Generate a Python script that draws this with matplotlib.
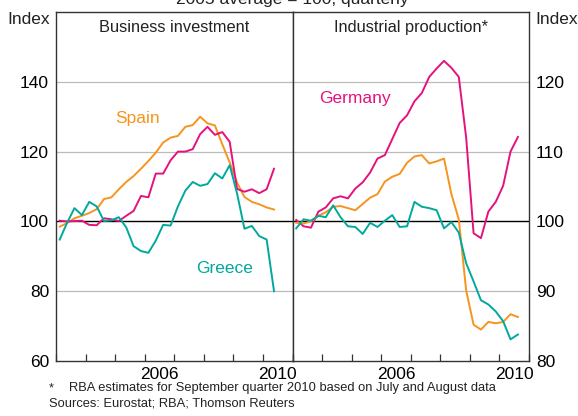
import numpy as np
import matplotlib.pyplot as plt

# quarterly data from 2003Q1, 2005 average = 100
# business investment runs to 2010Q2, industrial production to 2010Q3
bi_spain = [98.5, 99.5, 100.9, 101.6, 102.4, 103.5, 106.4, 106.9, 109.2, 111.3,
            113.0, 115.1, 117.3, 119.7, 122.6, 124.0, 124.5, 127.1, 127.6, 130.0,
            128.1, 127.5, 122.1, 116.9, 111.1, 107.0, 105.6, 104.9, 104.0, 103.4]
bi_germany = [100.2, 100.0, 100.1, 100.2, 99.0, 98.9, 100.9, 100.6, 100.1, 101.6,
              103.0, 107.3, 106.9, 113.7, 113.7, 117.5, 120.0, 120.0, 120.7, 125.0,
              127.1, 124.8, 125.6, 122.8, 109.3, 108.5, 109.2, 108.1, 109.2, 115.1]
bi_greece = [94.8, 99.6, 103.8, 101.8, 105.6, 104.3, 100.1, 100.3, 101.2, 98.3,
             92.9, 91.5, 91.0, 94.5, 99.0, 98.8, 104.3, 108.8, 111.3, 110.2,
             110.7, 113.8, 112.3, 116.1, 108.0, 97.9, 98.7, 95.8, 94.8, 80.0]

ip_germany = [100.2, 99.3, 99.1, 101.4, 102.0, 103.3, 103.6, 103.3, 104.7, 105.6,
              107.0, 109.0, 109.5, 111.8, 114.1, 115.2, 117.2, 118.4, 120.7, 121.9,
              123.0, 122.0, 120.7, 112.0, 98.3, 97.6, 101.4, 102.8, 105.1, 110.0, 112.1]
ip_spain = [99.8, 99.7, 100.0, 100.8, 101.3, 102.1, 102.2, 101.9, 101.6, 102.5,
            103.4, 103.9, 105.7, 106.4, 106.8, 108.4, 109.3, 109.5, 108.3, 108.6,
            109.0, 103.9, 100.3, 90.1, 85.2, 84.5, 85.6, 85.4, 85.6, 86.7, 86.3]
ip_greece = [99.0, 100.3, 100.1, 100.8, 100.6, 102.3, 100.6, 99.3, 99.2, 98.2,
             99.8, 99.2, 100.1, 100.9, 99.2, 99.3, 102.8, 102.1, 101.9, 101.6,
             99.0, 99.9, 98.4, 94.0, 91.4, 88.7, 88.1, 87.1, 85.7, 83.1, 83.8]

x_bi = 2003.125 + 0.25 * np.arange(len(bi_spain))
x_ip = 2003.125 + 0.25 * np.arange(len(ip_spain))

ORANGE = '#F7941D'
MAGENTA = '#E5127D'
TEAL = '#00A99D'
GRID = '#BBBBBB'
FRAME = '#333333'

plt.rcParams['font.family'] = ['Liberation Sans', 'DejaVu Sans']
plt.rcParams['text.color'] = '#222222'

W, H = 578, 416
fig = plt.figure(figsize=(W / 100, H / 100), dpi=100)
ax1 = fig.add_axes([56 / W, 55 / H, 236.5 / W, 349 / H])
ax2 = fig.add_axes([292.5 / W, 55 / H, 236.5 / W, 349 / H])

lw = 1.4

#left panel
for v in [80, 120, 140]:
    ax1.axhline(v, color=GRID, lw=0.9, zorder=1)
ax1.axhline(100, color='black', lw=1.0, zorder=1)
ax1.plot(x_bi, bi_spain, color=ORANGE, lw=lw, zorder=3)
ax1.plot(x_bi, bi_germany, color=MAGENTA, lw=lw, zorder=3)
ax1.plot(x_bi, bi_greece, color=TEAL, lw=lw, zorder=4)
ax1.set_ylim(60, 160)
ax1.set_yticks([60, 80, 100, 120, 140])

#right panel
for v in [90, 110, 120]:
    ax2.axhline(v, color=GRID, lw=0.9, zorder=1)
ax2.axhline(100, color='black', lw=1.0, zorder=1)
ax2.plot(x_ip, ip_germany, color=MAGENTA, lw=lw, zorder=3)
ax2.plot(x_ip, ip_spain, color=ORANGE, lw=lw, zorder=3)
ax2.plot(x_ip, ip_greece, color=TEAL, lw=lw, zorder=4)
ax2.set_ylim(80, 130)
ax2.set_yticks([80, 90, 100, 110, 120])
ax2.yaxis.tick_right()

for ax in (ax1, ax2):
    ax.set_xlim(2003, 2011)
    ax.set_xticks(np.arange(2003, 2012))
    ax.set_xticklabels([])
    ax.set_xticks([2006.5, 2010.5], minor=True)
    ax.set_xticklabels(['2006', '2010'], minor=True)
    ax.tick_params(axis='x', which='major', direction='in', length=5, width=0.9, color=FRAME)
    ax.tick_params(axis='x', which='minor', length=0, pad=4, labelsize=12.5)
    ax.tick_params(axis='y', length=0, pad=5, labelsize=12.5)
    for s in ax.spines.values():
        s.set_color(FRAME)
        s.set_linewidth(1.0)

ax1.text(0.5, 0.955, 'Business investment', transform=ax1.transAxes,
         ha='center', va='center', fontsize=11.8)
ax2.text(0.5, 0.955, 'Industrial production*', transform=ax2.transAxes,
         ha='center', va='center', fontsize=11.8)

ax1.text(2005.0, 129.4, 'Spain', color=ORANGE, fontsize=12.5, va='center')
ax1.text(2007.75, 86.6, 'Greece', color=TEAL, fontsize=12.5, va='center')
ax2.text(2003.9, 117.6, 'Germany', color=MAGENTA, fontsize=12.5, va='center')

fig.text(50 / W, 1 - 20 / H, 'Index', ha='right', va='center', fontsize=12.5)
fig.text(535 / W, 1 - 20 / H, 'Index', ha='left', va='center', fontsize=12.5)

fig.text(292 / W, 1 - 4 / H, '2005 average = 100, quarterly', ha='center',
         va='baseline', fontsize=12.5)

fig.text(49 / W, 1 - 391 / H, '*', ha='left', va='baseline', fontsize=9.3)
fig.text(69 / W, 1 - 391 / H,
         'RBA estimates for September quarter 2010 based on July and August data',
         ha='left', va='baseline', fontsize=9.3)
fig.text(49 / W, 1 - 407 / H, 'Sources: Eurostat; RBA; Thomson Reuters',
         ha='left', va='baseline', fontsize=9.3)

fig.savefig('out.png', dpi=100)
